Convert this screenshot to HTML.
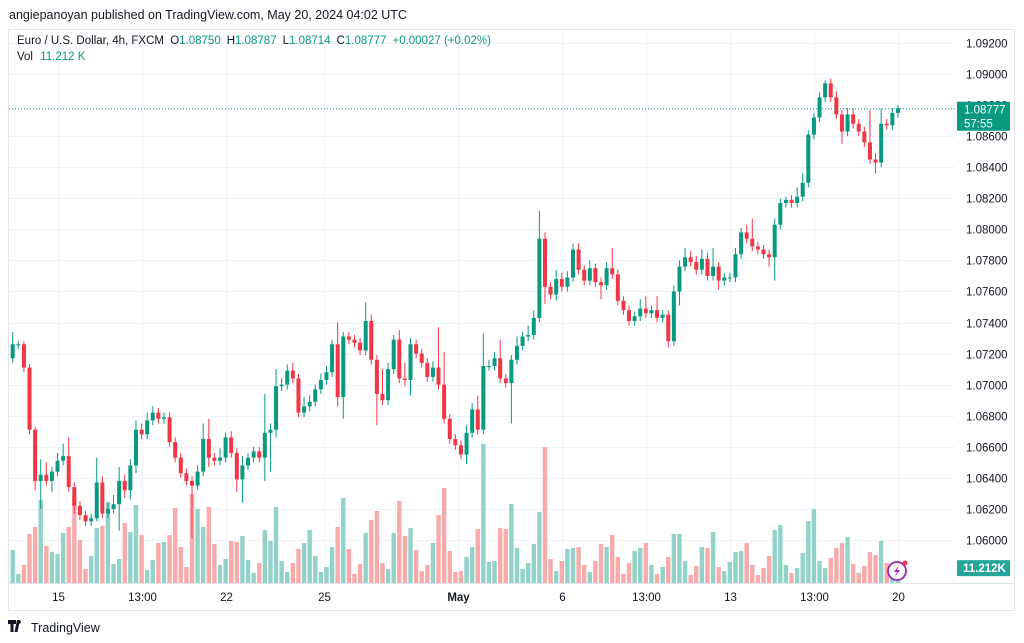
<!DOCTYPE html>
<html><head><meta charset="utf-8"><style>
body{margin:0;background:#fff;width:1024px;height:643px;overflow:hidden;font-family:"Liberation Sans",sans-serif;}
svg{position:absolute;left:0;top:0}
</style></head><body>
<svg id="c" width="1024" height="643" xmlns="http://www.w3.org/2000/svg">
<text x="9" y="19" font-size="12.5" fill="#131722">angiepanoyan published on TradingView.com, May 20, 2024 04:02 UTC</text>
<rect x="8.5" y="29.5" width="1006" height="581" fill="none" stroke="#e0e3eb"/>
<g id="grid"></g>
<g id="vol"></g>
<g id="cand"></g>
<g id="axes"></g>
<text x="17" y="44" font-size="11.5" fill="#131722">Euro / U.S. Dollar, 4h, FXCM <tspan dx="3">O</tspan><tspan fill="#089981">1.08750</tspan><tspan dx="6">H</tspan><tspan fill="#089981">1.08787</tspan><tspan dx="6">L</tspan><tspan fill="#089981">1.08714</tspan><tspan dx="6">C</tspan><tspan fill="#089981">1.08777</tspan><tspan dx="6" fill="#089981">+0.00027 (+0.02%)</tspan></text>
<text x="17" y="60" font-size="11.5" fill="#131722">Vol <tspan dx="4" fill="#089981">11.212 K</tspan></text>
<g>
<path d="M8 620h8v4h-2.5v8h-3v-8H8z M17 620l3 0 -2.5 12h-3z" fill="#131722"/>
<circle cx="19" cy="622" r="1.8" fill="#131722"/>
<text x="31" y="632" font-size="12.5" fill="#131722">TradingView</text>
</g>
<g>
<circle cx="897" cy="571" r="9" fill="#fff" stroke="#9c27b0" stroke-width="1.8"/>
<path d="M899 565l-5 7h3l-2 5 5-7h-3z" fill="#9c27b0"/>
<circle cx="905" cy="563" r="2.5" fill="#f23645"/>
</g>
</svg>
<script>
const closes=[1.0726,1.0726,1.0711,1.0671,1.0638,1.0642,1.0638,1.0644,1.0651,1.0654,1.0634,1.0622,1.0616,1.0612,1.0614,1.0637,1.0617,1.0620,1.0623,1.0638,1.0632,1.0648,1.0671,1.0668,1.0677,1.0682,1.0678,1.0679,
1.0663,1.0653,1.0643,1.0638,1.0635,1.0644,1.0665,1.0653,1.0651,1.0653,1.0666,1.0656,1.0639,1.0648,1.0653,1.0657,1.0653,1.0669,1.0671,1.0699,1.0700,1.0709,1.0704,1.0682,1.0686,1.0689,1.0697,
1.0703,1.0708,1.0726,1.0692,1.0731,1.0729,1.0727,1.0722,1.0741,1.0716,1.0694,1.0690,1.0710,1.0729,1.0704,1.0703,1.0726,1.0720,1.0714,1.0705,1.0711,1.0700,1.0678,1.0665,1.0661,1.0655,1.0669,1.0684,
1.0671,1.0712,1.0712,1.0717,1.0704,1.0701,1.0716,1.0725,1.0731,1.0732,1.0743,1.0794,1.0763,1.0758,1.0768,1.0763,1.0769,1.0787,1.0774,1.0767,1.0775,1.0766,1.0764,1.0775,1.0771,1.0754,1.0748,1.0741,
1.0744,1.0749,1.0746,1.0748,1.0743,1.0745,1.0728,1.0760,1.0776,1.0782,1.0779,1.0774,1.0781,1.0770,1.0776,1.0767,1.0769,1.0769,1.0784,1.0798,1.0794,1.0789,1.0787,1.0784,1.0782,1.0803,1.0817,
1.0819,1.0817,1.0821,1.0830,1.0861,1.0872,1.0885,1.0894,1.0885,1.0874,1.0863,1.0874,1.0868,1.0863,1.0856,1.0845,1.0843,1.0868,1.0867,1.0875,1.0878];
const firstOpen=1.0717;
const upWickPips=[8,2,2,2,2,10,8,3,5,8,12,3,3,3,3,16,4,4,6,9,4,4,6,4,5,4,3,3,3,3,3,3,3,4,10,13,3,6,3,4,3,6,3,3,3,25,4,11,4,4,5,3,6,4,3,4,4,3,14,3,3,3,3,12,4,3,16,4,3,6,10,4,3,3,3,4,26,21,3,3,3,5,4,9,21,4,4,12,3,3,6,3,6,5,18,4,3,6,4,4,4,4,3,5,3,3,4,13,3,3,3,3,6,8,3,9,3,3,4,4,6,4,4,6,4,12,3,3,3,4,3,5,13,3,3,3,4,3,2,3,6,6,3,3,3,2,3,4,3,4,4,3,3,21,4,10,3,3,2];
const dnWickPips=[3,3,3,3,6,18,3,7,3,3,3,5,3,3,3,2,3,3,3,17,5,6,5,3,3,3,3,3,3,3,3,3,34,3,3,6,3,3,3,3,8,15,3,3,3,15,25,5,3,3,3,3,3,3,3,3,3,3,6,14,3,3,3,3,3,20,3,3,3,3,4,10,3,3,3,3,3,3,3,3,3,6,3,3,3,3,3,3,3,26,3,3,3,3,3,11,3,4,3,3,3,3,3,3,3,9,3,3,3,3,3,3,3,3,3,3,3,4,3,9,3,3,3,3,3,3,6,3,3,3,3,3,3,3,3,6,15,3,3,3,3,3,3,3,3,3,3,3,8,3,3,3,3,3,7,3,3,3,3];
const volumesK=[24.8,6.8,13.5,36.8,42,62.3,27.8,23.3,21.8,37.5,42,66,32.3,10.5,20.3,41.3,42.8,60.8,14.3,18,45,38.3,58.5,36,9.8,17.3,30,
30.8,36,56.3,27,12,66.8,55.5,42,57,29.3,13.5,18,31.5,30.8,35.3,17.3,7.5,15,39.8,31.5,57,16.5,8.3,15,25.5,30,39.8,20.3,
8.3,12,27,42,63.8,25.5,6.8,14.3,37.5,47.3,54,15,10.5,37.5,61.5,35.3,41.3,24.8,9,13.5,30,51,71.3,24,8.3,9,19.5,27,
40.5,104.3,15.8,16.5,41.3,40.5,59.3,26.3,10.5,15,29.3,53.3,102,18,9,16.5,25.5,26.3,27,13.5,8.3,16.5,29.3,27,36,19.5,6.8,15,
24,26.3,30,13.5,6.8,12,19.5,36.8,36.8,16.5,6,12.8,27,26.3,38.3,12,9,15.8,23.3,24,30,13.5,6,11.3,20.3,39.8,43.5,
13.5,7.5,11.3,22.5,46.5,55.5,16.5,11.3,18.8,26.3,30,34.5,14.3,7.5,12.8,23.3,21,31.5,15,12,11.2];
const priceTicks=[1.092,1.090,1.088,1.086,1.084,1.082,1.080,1.078,1.076,1.074,1.072,1.070,1.068,1.066,1.064,1.062,1.060];
const timeLabels=["15","13:00","22","25","May","6","13:00","13","13:00","20"];
const timeIdx=[8,23,38,55.5,79.5,98,113,128,143,158];
const lastPrice=1.08777;

const NS="http://www.w3.org/2000/svg";
const GREEN="#089981",RED="#f23645",VG="#93d2c9",VR="#f8abab";
const xL=12.7, step=5.603, plotRight=955;
function X(i){return xL+i*step;}
function Y(p){return 43+(1.092-p)/0.002*31.06;}
const volBase=583, volPxPerK=1.333;
function VY(v){return volBase-v*volPxPerK;}
function el(tag,attrs,parent){const e=document.createElementNS(NS,tag);for(const k in attrs)e.setAttribute(k,attrs[k]);parent.appendChild(e);return e;}
const grid=document.getElementById('grid'),vol=document.getElementById('vol'),cand=document.getElementById('cand'),axes=document.getElementById('axes');

priceTicks.forEach(p=>{
  const y=Math.round(Y(p))+0.5;
  const l=el('line',{x1:9,x2:plotRight,y1:y,y2:y,stroke:'#f0f3fa'},grid);
  
  
  const t=el('text',{x:966,y:y+4,'font-size':11.5,fill:'#131722'},axes);
  
  
  t.textContent=p.toFixed(5);
});
timeLabels.forEach((s,k)=>{
  const x=Math.round(X(timeIdx[k]))+0.5;
  const l=el('line',{x1:x,x2:x,y1:30,y2:583,stroke:'#f0f3fa'},grid);
  
  
  const t=el('text',{x:x,y:601,'font-size':11.5,fill:'#131722','text-anchor':'middle','font-weight':s==='May'?'bold':'normal'},axes);
  
  
  t.textContent=s;
});
const tl=el('line',{x1:9,x2:1014,y1:583.5,y2:583.5,stroke:'#e0e3eb'},axes);



closes.forEach((c,i)=>{
  const o=i===0?firstOpen:closes[i-1];
  const up=c>=o;
  const x=X(i);
  const vb=el('rect',{x:x-2.2,y:VY(volumesK[i]),width:4.4,height:volumesK[i]*volPxPerK,fill:up?VG:VR},vol);
  
  
  const hi=Math.max(o,c)+upWickPips[i]*0.0001, lo=Math.min(o,c)-dnWickPips[i]*0.0001;
  const w=el('line',{x1:x,x2:x,y1:Y(hi),y2:Y(lo),stroke:up?GREEN:RED,'stroke-width':1},cand);
  
  
  const yt=Y(Math.max(o,c)), yb=Y(Math.min(o,c));
  const b=el('rect',{x:x-2,y:yt,width:4,height:Math.max(1,yb-yt),fill:up?GREEN:RED},cand);
  
  
});

const ly=Y(lastPrice);
const dl=el('line',{x1:9,x2:955,y1:ly,y2:ly,stroke:GREEN,'stroke-width':1,'stroke-dasharray':'1,2'},axes);


const pb=el('rect',{x:957,y:ly-7,width:53,height:29,fill:GREEN,rx:1},axes);


const pt=el('text',{x:964,y:ly+5,'font-size':11.5,fill:'#fff'},axes);


pt.textContent=lastPrice.toFixed(5);
const ct=el('text',{x:964,y:ly+19,'font-size':11.5,fill:'#fff'},axes);


ct.textContent="57:55";
const vlast=volumesK[volumesK.length-1];
const vbx=el('rect',{x:957,y:VY(vlast)-8,width:53,height:16,fill:'#26a69a',rx:1},axes);


const vt=el('text',{x:963,y:VY(vlast)+4,'font-size':11.5,fill:'#fff','font-weight':'bold'},axes);


vt.textContent="11.212K";
</script>
</body></html>
